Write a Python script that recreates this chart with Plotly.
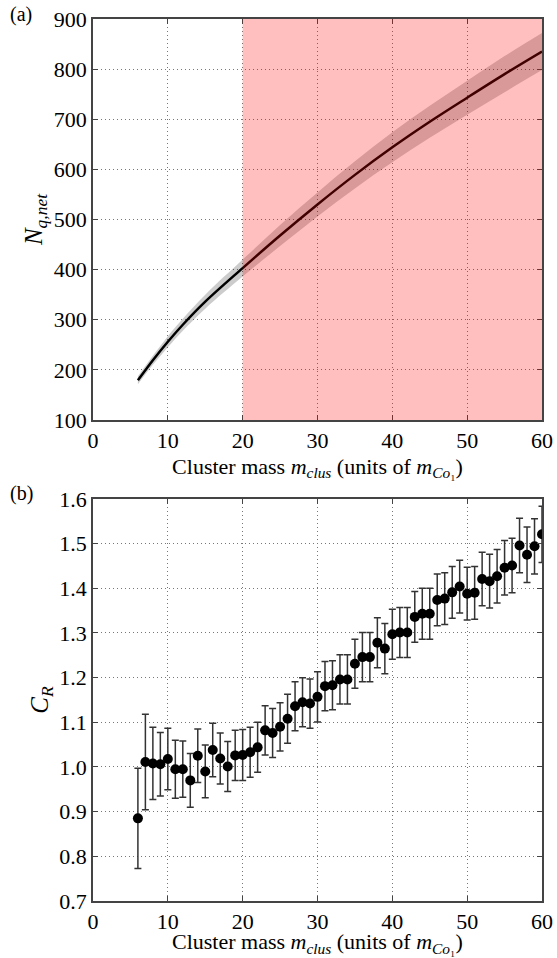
import plotly.graph_objects as go

# ---- data: panel (a) ----
curve_x = [6, 8, 10, 12, 15, 20, 25, 30, 35, 40, 45, 50, 55, 60]
curve_y = [179, 219, 256, 290, 336, 403, 468, 530, 589, 644, 695, 743, 790, 835]
curve_err = [8, 9, 11, 12, 14, 17, 21, 24, 27, 30, 32, 34, 36, 37]

# ---- data: panel (b) ----
cr_x = list(range(6, 61))
cr_y = [0.885, 1.011, 1.008, 1.006, 1.018, 0.995, 0.995, 0.970, 1.025, 0.990,
        1.038, 1.019, 1.001, 1.026, 1.027, 1.033, 1.044, 1.082, 1.076, 1.090,
        1.108, 1.136, 1.145, 1.142, 1.157, 1.181, 1.183, 1.196, 1.196, 1.231,
        1.246, 1.246, 1.278, 1.265, 1.297, 1.301, 1.301, 1.336, 1.343, 1.343,
        1.374, 1.377, 1.391, 1.404, 1.388, 1.390, 1.421, 1.416, 1.427, 1.446,
        1.451, 1.496, 1.475, 1.494, 1.521]
cr_err = [0.112, 0.107, 0.081, 0.071, 0.069, 0.065, 0.063, 0.060, 0.060, 0.059,
          0.060, 0.057, 0.056, 0.056, 0.057, 0.056, 0.056, 0.055, 0.055, 0.054,
          0.055, 0.055, 0.055, 0.055, 0.056, 0.055, 0.055, 0.055, 0.055, 0.055,
          0.055, 0.055, 0.056, 0.056, 0.056, 0.056, 0.056, 0.057, 0.057, 0.057,
          0.058, 0.058, 0.058, 0.059, 0.059, 0.059, 0.060, 0.060, 0.060, 0.061,
          0.061, 0.061, 0.062, 0.062, 0.063]

x_ticks = [0, 10, 20, 30, 40, 50, 60]
ya_ticks = [100, 200, 300, 400, 500, 600, 700, 800, 900]
yb_ticks = [0.7, 0.8, 0.9, 1.0, 1.1, 1.2, 1.3, 1.4, 1.5, 1.6]
highlight_range = [20, 60]

FONT = "Times New Roman, Liberation Serif, serif"
xtitle = "Cluster mass <i>m</i><sub><i>clus</i></sub> (units of <i>m</i><sub><i>Co</i>₁</sub>)"

fig = go.Figure()

upper = [y + e for y, e in zip(curve_y, curve_err)]
lower = [y - e for y, e in zip(curve_y, curve_err)]
fig.add_trace(go.Scatter(x=curve_x, y=lower, mode="lines", line=dict(width=0),
                         line_shape="spline", hoverinfo="skip",
                         xaxis="x", yaxis="y", showlegend=False))
fig.add_trace(go.Scatter(x=curve_x, y=upper, mode="lines", line=dict(width=0),
                         line_shape="spline", fill="tonexty",
                         fillcolor="rgba(0,0,0,0.2)", hoverinfo="skip",
                         xaxis="x", yaxis="y", showlegend=False))
fig.add_trace(go.Scatter(x=curve_x, y=curve_y, mode="lines", line_shape="spline",
                         line=dict(color="black", width=2.5),
                         xaxis="x", yaxis="y", showlegend=False))

fig.add_trace(go.Scatter(x=cr_x, y=cr_y, mode="markers",
                         marker=dict(color="black", size=10),
                         error_y=dict(type="data", array=cr_err, color="#333333",
                                      thickness=1.5, width=3.5),
                         xaxis="x2", yaxis="y2", showlegend=False))

fig.add_shape(type="rect", xref="x", yref="y domain", x0=highlight_range[0],
              x1=highlight_range[1], y0=0, y1=1, fillcolor="rgba(255,0,0,0.25)",
              line=dict(width=0), layer="above")

axis_common = dict(showline=True, linecolor="#444444", linewidth=1.5, mirror="allticks",
                   ticks="inside", ticklen=5, tickcolor="#444444",
                   showgrid=True, gridcolor="#777777", griddash="1px,3px", gridwidth=1,
                   zeroline=False, automargin=False,
                   tickfont=dict(family=FONT, size=22, color="black"))

fig.update_layout(
    width=557, height=958,
    margin=dict(l=93, r=15, t=19, b=57),
    plot_bgcolor="white", paper_bgcolor="white",
    font=dict(family=FONT, color="black"),
    xaxis=dict(domain=[0, 1], range=[0, 60], tickvals=x_ticks, anchor="y",
               title=dict(text=xtitle, font=dict(size=22, family=FONT), standoff=6),
               **axis_common),
    yaxis=dict(domain=[0.5454, 1.0], range=[100, 900], tickvals=ya_ticks, anchor="x",
               title=dict(text="<i>N</i><sub><i>q,net</i></sub>", font=dict(size=25, family=FONT),
                          standoff=4),
               **axis_common),
    xaxis2=dict(domain=[0, 1], range=[0, 60], tickvals=x_ticks, anchor="y2",
                **axis_common),
    yaxis2=dict(domain=[0, 0.4558], range=[0.7, 1.6], tickvals=yb_ticks, anchor="x2",
                tickformat=".1f",
                title=dict(text="<i>C</i><sub><i>R</i></sub>", font=dict(size=25, family=FONT),
                           standoff=4),
                **axis_common),
)

# bottom x-axis title as an annotation (margin would otherwise squeeze it)
fig.add_annotation(text=xtitle, x=0.5, y=-0.0475, xref="paper", yref="paper",
                   xanchor="center", yanchor="middle", showarrow=False,
                   font=dict(family=FONT, size=22))
fig.add_annotation(text="(a)", x=-0.19, y=1.005, xref="paper", yref="paper",
                   xanchor="left", yanchor="middle", showarrow=False,
                   font=dict(family=FONT, size=20))
fig.add_annotation(text="(b)", x=-0.19, y=0.462, xref="paper", yref="paper",
                   xanchor="left", yanchor="middle", showarrow=False,
                   font=dict(family=FONT, size=20))

fig.write_html("out.html", config={"displayModeBar": False},
               post_script="document.body.style.margin='0';document.body.style.overflow='hidden';")
